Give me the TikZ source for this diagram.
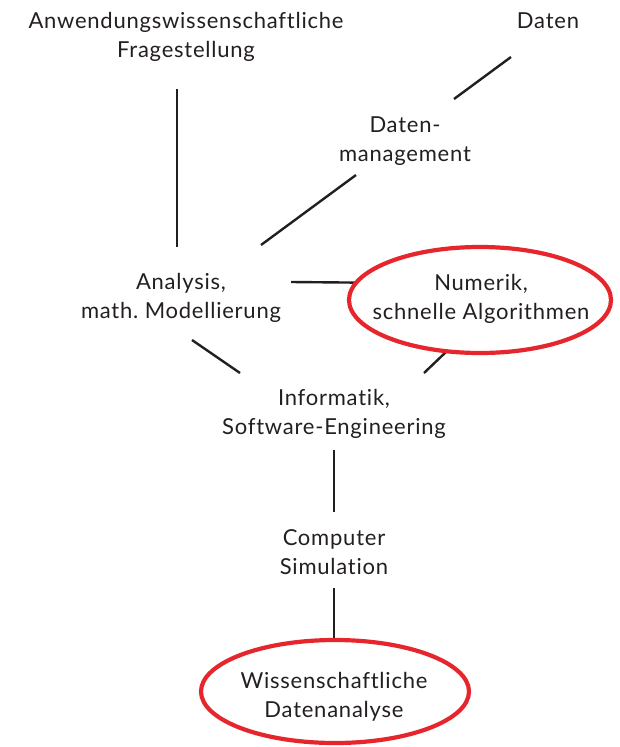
\documentclass[tikz,border=0pt]{standalone}
\usepackage{fontspec}
\setmainfont{Lato}[Ligatures={NoCommon,NoRequired,NoContextual}, LetterSpace=3.5]
\frenchspacing
\usetikzlibrary{shapes.geometric}
\definecolor{ink}{RGB}{35,31,32}
\definecolor{hired}{RGB}{230,38,45}
\tikzset{
  lbl/.style={anchor=base, inner sep=0pt, text=ink, font=\fontsize{22}{29}\selectfont},
  conn/.style={draw=ink, line width=2.4pt},
  hiell/.style={ellipse, inner sep=0pt, outer sep=0pt},
  ring/.style={draw=hired, line width=4.2pt},
}
\newcommand{\twolines}[2]{\begin{tabular}[t]{@{}c@{}}#1\\#2\end{tabular}}
\begin{document}
\begin{tikzpicture}[x=1pt,y=-1pt]
\useasboundingbox (0,0) rectangle (619,747);
\node[lbl] (anw) at (186,28) {\twolines{Anwendungswissenschaftliche}{Fragestellung}};
\node[lbl] (dat) at (548,28) {Daten};
\node[lbl] (dm) at (405,132) {\twolines{Daten-}{management}};
\node[lbl] (ana) at (181,289) {\twolines{Analysis,}{math. Modellierung}};
\node[lbl] (num) at (481,290) {\twolines{Numerik,}{schnelle Algorithmen}};
\node[lbl] (inf) at (334,405) {\twolines{Informatik,}{Software-Engineering}};
\node[lbl] (com) at (334,545) {\twolines{Computer}{Simulation}};
\node[lbl] (wis) at (334,688) {\twolines{Wissenschaftliche}{Datenanalyse}};
\node[hiell, minimum width=262pt, minimum height=106pt] (numE) at (480,300) {};
\node[hiell, minimum width=268pt, minimum height=103pt] (wisE) at (335,691.5) {};
% connectors
\draw[conn] ([shift={(-9,61)}]anw.base) -- ([shift={(-4,-42)}]ana.base);
\draw[conn] ([shift={(-37,29)}]dat.base) -- ([shift={(49,-33)}]dm.base);
\draw[conn] ([shift={(-49,43)}]dm.base) -- ([shift={(80,-44)}]ana.base);
\draw[conn] ([shift={(110,-7)}]ana.base) -- (numE.172);
\draw[conn] ([shift={(11,51)}]ana.base) -- ([shift={(-94,-32)}]inf.base);
\draw[conn] (numE.237) -- ([shift={(90,-32)}]inf.base);
\draw[conn] ([shift={(0,45)}]inf.base) -- ([shift={(0,-33)}]com.base);
\draw[conn] ([shift={(0,43)}]com.base) -- (com.base |- wisE.north);
% highlight rings
\draw[ring] (numE.center) ellipse [x radius=131pt, y radius=53pt];
\draw[ring] (wisE.center) ellipse [x radius=134pt, y radius=51.5pt];
\end{tikzpicture}
\end{document}
